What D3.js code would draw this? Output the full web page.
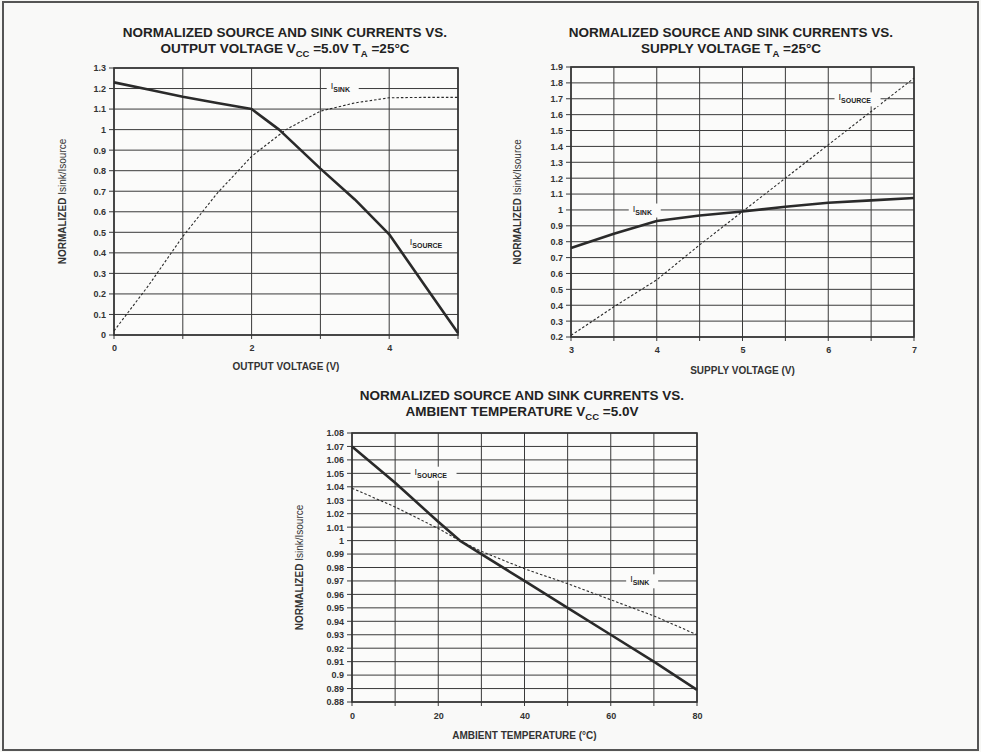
<!DOCTYPE html>
<html>
<head>
<meta charset="utf-8">
<script src="https://cdn.jsdelivr.net/npm/d3@7"></script>
<style>
  body { margin: 0; background: #f7f7f5; }
  svg { display: block; font-family: "Liberation Sans", Arial, sans-serif; }
  .title { font-size: 13.5px; font-weight: bold; fill: #222; }
  .tick text { font-size: 9px; font-weight: bold; fill: #333; }
  .axlabel { font-size: 10px; font-weight: bold; fill: #333; }
  .curvelabel { font-size: 9px; fill: #222; }
</style>
</head>
<body>
<div id="chart"></div>
<script>
var w = 981;
var h = 752;

// chart 1: output voltage
var outVolt = [0, 0.5, 1, 1.5, 2, 2.2, 2.4, 3, 3.5, 4, 4.5, 5];
var outSource = [1.23, 1.195, 1.16, 1.13, 1.10, 1.05, 1.0, 0.81, 0.66, 0.49, 0.25, 0.01];
var outSinkV = [0, 0.5, 1, 1.5, 2, 2.5, 3, 3.5, 4, 4.5, 5];
var outSink = [0.02, 0.24, 0.48, 0.69, 0.87, 1.0, 1.09, 1.13, 1.155, 1.157, 1.157];
var outYTicks = [0, 0.1, 0.2, 0.3, 0.4, 0.5, 0.6, 0.7, 0.8, 0.9, 1, 1.1, 1.2, 1.3];
var outXTicks = [0, 2, 4];

// chart 2: supply voltage
var supVolt = [3, 3.5, 4, 4.5, 5, 5.5, 6, 6.5, 7];
var supSource = [0.21, 0.39, 0.56, 0.78, 0.99, 1.2, 1.41, 1.62, 1.83];
var supSink = [0.76, 0.85, 0.93, 0.965, 0.99, 1.02, 1.045, 1.06, 1.075];
var supYTicks = [0.2, 0.3, 0.4, 0.5, 0.6, 0.7, 0.8, 0.9, 1, 1.1, 1.2, 1.3, 1.4, 1.5, 1.6, 1.7, 1.8, 1.9];
var supXTicks = [3, 4, 5, 6, 7];

// chart 3: ambient temperature
var temps = [0, 10, 20, 25, 30, 40, 50, 60, 70, 80];
var tempSource = [1.07, 1.043, 1.014, 1.0, 0.99, 0.97, 0.95, 0.93, 0.91, 0.889];
var tempSink = [1.039, 1.025, 1.009, 1.0, 0.992, 0.979, 0.968, 0.956, 0.944, 0.93];
var tempYTicks = [0.88, 0.89, 0.9, 0.91, 0.92, 0.93, 0.94, 0.95, 0.96, 0.97, 0.98, 0.99, 1,
                  1.01, 1.02, 1.03, 1.04, 1.05, 1.06, 1.07, 1.08];
var tempXTicks = [0, 20, 40, 60, 80];

var svg = d3.select("#chart").append("svg")
            .attr("width", w)
            .attr("height", h);

// page frame
svg.append("rect")
   .attr("x", 3).attr("y", 2)
   .attr("width", w - 6).attr("height", h - 4)
   .attr("fill", "#f9f9f8")
   .attr("stroke", "#555")
   .attr("stroke-width", 2);

var fmt = function(d) { return String(+d.toFixed(2)); };

var drawChart = function(cfg) {
  var x = d3.scaleLinear().domain(cfg.xDomain).range([cfg.left, cfg.right]);
  var y = d3.scaleLinear().domain(cfg.yDomain).range([cfg.bottom, cfg.top]);
  var g = svg.append("g");

  g.append("rect")
   .attr("x", cfg.left).attr("y", cfg.top)
   .attr("width", cfg.right - cfg.left).attr("height", cfg.bottom - cfg.top)
   .attr("fill", "#fbfbfa");

  // grid
  g.selectAll("line.hg")
   .data(cfg.yTicks)
   .enter()
   .append("line")
   .attr("class", "hg")
   .attr("x1", cfg.left - 5).attr("x2", cfg.right)
   .attr("y1", function(d) { return y(d); })
   .attr("y2", function(d) { return y(d); })
   .attr("stroke", "#3a3a3a")
   .attr("stroke-width", 1);

  g.selectAll("line.vg")
   .data(cfg.xGrid)
   .enter()
   .append("line")
   .attr("class", "vg")
   .attr("x1", function(d) { return x(d); })
   .attr("x2", function(d) { return x(d); })
   .attr("y1", cfg.top).attr("y2", cfg.bottom + 4)
   .attr("stroke", "#3a3a3a")
   .attr("stroke-width", 1);

  g.append("rect")
   .attr("x", cfg.left).attr("y", cfg.top)
   .attr("width", cfg.right - cfg.left).attr("height", cfg.bottom - cfg.top)
   .attr("fill", "none")
   .attr("stroke", "#333")
   .attr("stroke-width", 1.6);

  // axes (text only, lines come from the grid)
  var yAxis = d3.axisLeft(y).tickValues(cfg.yTicks).tickFormat(fmt).tickSize(0).tickPadding(8);
  var ya = g.append("g").attr("transform", "translate(" + cfg.left + ",0)").call(yAxis);
  ya.select(".domain").remove();

  var xAxis = d3.axisBottom(x).tickValues(cfg.xTicks).tickFormat(fmt).tickSize(0).tickPadding(cfg.xPad);
  var xa = g.append("g").attr("transform", "translate(0," + cfg.bottom + ")").call(xAxis);
  xa.select(".domain").remove();

  // titles
  g.append("text").attr("class", "title")
   .attr("x", cfg.titleX).attr("y", cfg.titleY)
   .attr("text-anchor", "middle")
   .text("NORMALIZED SOURCE AND SINK CURRENTS VS.");
  var t2 = g.append("text").attr("class", "title")
   .attr("x", cfg.titleX).attr("y", cfg.titleY + 16)
   .attr("text-anchor", "middle");
  cfg.title2.forEach(function(p) {
    if (p.sub) {
      t2.append("tspan").attr("dy", 4).attr("font-size", "9.5px").text(p.t);
    } else {
      t2.append("tspan").attr("dy", p.up ? -4 : 0).text(p.t);
    }
  });

  g.append("text").attr("class", "axlabel")
   .attr("x", (cfg.left + cfg.right) / 2)
   .attr("y", cfg.bottom + cfg.xLabelDy)
   .attr("text-anchor", "middle")
   .text(cfg.xLabel);

  var yl = g.append("text").attr("class", "axlabel")
   .attr("transform", "translate(" + cfg.yLabelX + "," + ((cfg.top + cfg.bottom) / 2) + ") rotate(-90)")
   .attr("text-anchor", "middle");
  yl.append("tspan").text("NORMALIZED ");
  yl.append("tspan").attr("font-weight", "normal").text("Isink/Isource");

  // curves
  var line = d3.line()
               .x(function(d) { return x(d[0]); })
               .y(function(d) { return y(d[1]); });

  cfg.series.forEach(function(s) {
    var pts = s.xs.map(function(v, i) { return [v, s.ys[i]]; });
    g.append("path")
     .attr("d", line(pts))
     .attr("fill", "none")
     .attr("stroke", "#2a2a2a")
     .attr("stroke-width", s.dashed ? 1.1 : 2.6)
     .attr("stroke-dasharray", s.dashed ? "2.5,2" : null)
     .attr("stroke-linejoin", "round");
  });

  // curve labels
  cfg.labels.forEach(function(l) {
    var lx = x(l.x), ly = y(l.y);
    g.append("rect")
     .attr("x", lx - 4).attr("y", ly - 8)
     .attr("width", l.w).attr("height", 14)
     .attr("fill", "#fbfbfa");
    var t = g.append("text").attr("class", "curvelabel")
     .attr("x", lx).attr("y", ly);
    t.append("tspan").attr("fill", "#222").text("I");
    t.append("tspan").attr("dy", 3).attr("fill", "#222")
     .attr("font-size", "7px").attr("font-weight", "bold").text(l.sub);
  });
};

drawChart({
  left: 114, right: 458, top: 68, bottom: 335,
  xDomain: [0, 5], yDomain: [0, 1.3],
  xGrid: [0, 1, 2, 3, 4, 5], xTicks: outXTicks, yTicks: outYTicks,
  titleX: 285, titleY: 37,
  title2: [{t: "OUTPUT VOLTAGE V"}, {t: "CC", sub: true}, {t: " =5.0V T", up: true}, {t: "A", sub: true}, {t: " =25°C", up: true}],
  xLabel: "OUTPUT VOLTAGE (V)", xLabelDy: 35, xPad: 10, yLabelX: 66,
  series: [
    {xs: outVolt, ys: outSource, dashed: false},
    {xs: outSinkV, ys: outSink, dashed: true}
  ],
  labels: [
    {x: 3.15, y: 1.2, sub: "SINK", w: 32},
    {x: 4.3, y: 0.44, sub: "SOURCE", w: 46}
  ]
});

drawChart({
  left: 571, right: 914, top: 67, bottom: 337,
  xDomain: [3, 7], yDomain: [0.2, 1.9],
  xGrid: [3, 3.5, 4, 4.5, 5, 5.5, 6, 6.5, 7], xTicks: supXTicks, yTicks: supYTicks,
  titleX: 731, titleY: 37,
  title2: [{t: "SUPPLY VOLTAGE T"}, {t: "A", sub: true}, {t: " =25°C", up: true}],
  xLabel: "SUPPLY VOLTAGE (V)", xLabelDy: 37, xPad: 10, yLabelX: 521,
  series: [
    {xs: supVolt, ys: supSink, dashed: false},
    {xs: supVolt, ys: supSource, dashed: true}
  ],
  labels: [
    {x: 6.12, y: 1.69, sub: "SOURCE", w: 46},
    {x: 3.72, y: 0.99, sub: "SINK", w: 32}
  ]
});

drawChart({
  left: 352, right: 697, top: 433, bottom: 702,
  xDomain: [0, 80], yDomain: [0.88, 1.08],
  xGrid: [0, 10, 20, 30, 40, 50, 60, 70, 80], xTicks: tempXTicks, yTicks: tempYTicks,
  titleX: 522, titleY: 400,
  title2: [{t: "AMBIENT TEMPERATURE V"}, {t: "CC", sub: true}, {t: " =5.0V", up: true}],
  xLabel: "AMBIENT TEMPERATURE (°C)", xLabelDy: 37, xPad: 11, yLabelX: 303,
  series: [
    {xs: temps, ys: tempSource, dashed: false},
    {xs: temps, ys: tempSink, dashed: true}
  ],
  labels: [
    {x: 14.5, y: 1.049, sub: "SOURCE", w: 46},
    {x: 64.5, y: 0.969, sub: "SINK", w: 32}
  ]
});
</script>
</body>
</html>
